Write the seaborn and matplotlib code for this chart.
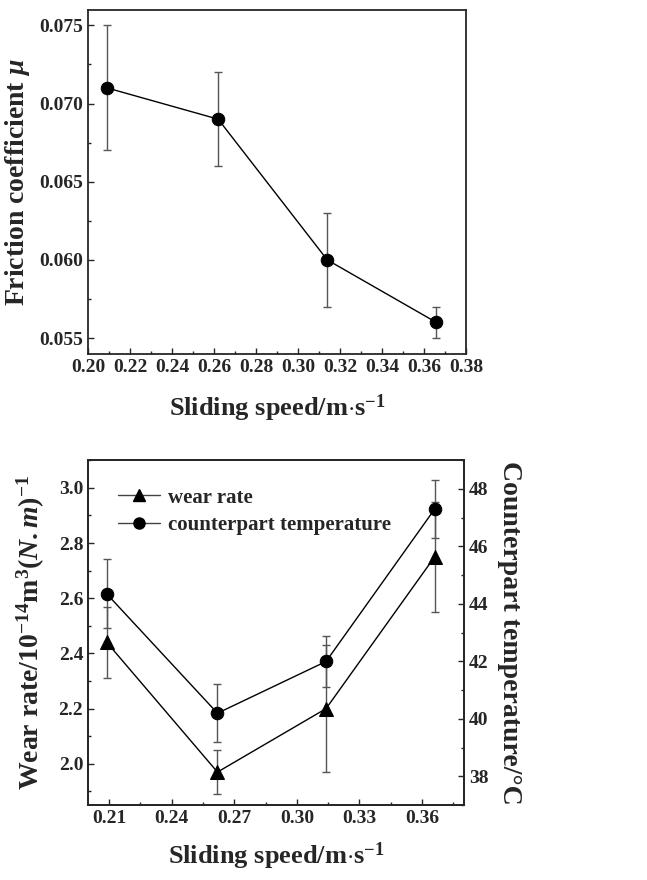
import matplotlib
matplotlib.use("Agg")
import matplotlib.pyplot as plt
import seaborn as sns
import pandas as pd
from matplotlib.lines import Line2D
from matplotlib.ticker import MultipleLocator

# data
speed = [0.209, 0.262, 0.314, 0.366]
friction = [0.071, 0.069, 0.060, 0.056]
friction_err = [0.004, 0.003, 0.003, 0.001]
wear_rate = [2.44, 1.97, 2.20, 2.75]
wear_err = [0.13, 0.08, 0.23, 0.20]
temperature = [44.35, 40.2, 42.0, 47.3]
temp_err = [1.2, 1.0, 0.9, 1.0]

sns.set_theme(style="ticks")
plt.rcParams['font.family'] = ['Liberation Serif', 'DejaVu Serif']
plt.rcParams['font.weight'] = 'bold'
plt.rcParams['axes.labelweight'] = 'bold'
plt.rcParams['mathtext.fontset'] = 'custom'
plt.rcParams['mathtext.rm'] = 'Liberation Serif:bold'
plt.rcParams['mathtext.bf'] = 'Liberation Serif:bold'
plt.rcParams['mathtext.it'] = 'Liberation Serif:bold:italic'
plt.rcParams['xtick.direction'] = 'in'
plt.rcParams['ytick.direction'] = 'in'
plt.rcParams['axes.linewidth'] = 1.3

df = pd.DataFrame({'speed': speed, 'friction': friction,
                   'wear': wear_rate, 'temp': temperature})

fig = plt.figure(figsize=(6.47, 8.8), dpi=100)
ax1 = fig.add_axes([0.136, 0.598, 0.584, 0.391])
ax2 = fig.add_axes([0.136, 0.085, 0.581, 0.392])

tick_fs = 14
label_fs = 19
err_color = '#555555'


def style_ticks(ax):
    ax.tick_params(which='major', length=4, width=1, labelsize=tick_fs)
    ax.tick_params(which='minor', length=2.5, width=1)
    for lab in ax.get_xticklabels() + ax.get_yticklabels():
        lab.set_fontweight('bold')


# ---- top panel: friction coefficient ----
ax1.errorbar(speed, friction, yerr=friction_err, fmt='none', ecolor=err_color,
             elinewidth=1, capsize=3, capthick=1, zorder=2)
sns.lineplot(data=df, x='speed', y='friction', ax=ax1, color='black', lw=1,
             marker='o', markersize=9, markeredgecolor='black', zorder=3)
ax1.set_xlim(0.20, 0.38)
ax1.set_ylim(0.054, 0.076)
ax1.xaxis.set_major_locator(MultipleLocator(0.02))
ax1.xaxis.set_minor_locator(MultipleLocator(0.01))
ax1.yaxis.set_major_locator(MultipleLocator(0.005))
ax1.yaxis.set_minor_locator(MultipleLocator(0.0025))
ax1.xaxis.set_major_formatter(plt.FormatStrFormatter('%.2f'))
ax1.yaxis.set_major_formatter(plt.FormatStrFormatter('%.3f'))
ax1.set_xlabel(r'Sliding speed/m$\cdot$s$^{-1}$', fontsize=label_fs, labelpad=12)
ax1.set_ylabel(r'Friction coefficient $\mu$', fontsize=label_fs + 1, labelpad=5)
style_ticks(ax1)

# ---- bottom panel: wear rate and counterpart temperature ----
ax3 = ax2.twinx()
ax2.errorbar(speed, wear_rate, yerr=wear_err, fmt='none', ecolor=err_color,
             elinewidth=1, capsize=3, capthick=1, zorder=2)
sns.lineplot(data=df, x='speed', y='wear', ax=ax2, color='black', lw=1,
             marker='^', markersize=10, markeredgecolor='black', zorder=3)
ax3.errorbar(speed, temperature, yerr=temp_err, fmt='none', ecolor=err_color,
             elinewidth=1, capsize=3, capthick=1, zorder=2)
sns.lineplot(data=df, x='speed', y='temp', ax=ax3, color='black', lw=1,
             marker='o', markersize=9, markeredgecolor='black', zorder=3)

ax2.set_xlim(0.20, 0.38)
ax2.set_ylim(1.85, 3.1)
ax3.set_ylim(37, 49)
ax2.xaxis.set_minor_locator(MultipleLocator(0.015))
ax2.set_xticks([0.21, 0.24, 0.27, 0.30, 0.33, 0.36])
ax2.yaxis.set_major_locator(MultipleLocator(0.2))
ax2.yaxis.set_minor_locator(MultipleLocator(0.1))
ax3.yaxis.set_major_locator(MultipleLocator(2))
ax3.yaxis.set_minor_locator(MultipleLocator(1))
ax2.xaxis.set_major_formatter(plt.FormatStrFormatter('%.2f'))
ax2.yaxis.set_major_formatter(plt.FormatStrFormatter('%.1f'))
ax3.yaxis.set_major_formatter(plt.FormatStrFormatter('%d'))
ax2.set_xlabel(r'Sliding speed/m$\cdot$s$^{-1}$', fontsize=label_fs, labelpad=10)
ax2.set_ylabel(r'Wear rate/10$^{-14}$m$^{3}$$(N.m)^{-1}$', fontsize=label_fs + 1,
               labelpad=8)
ax3.set_ylabel('Counterpart temperature/°C', fontsize=label_fs + 1, rotation=270,
               labelpad=24)
style_ticks(ax2)
style_ticks(ax3)

handles = [
    Line2D([], [], color='#444444', lw=1, marker='^', markersize=9,
           markerfacecolor='black', markeredgecolor='black'),
    Line2D([], [], color='#444444', lw=1, marker='o', markersize=8,
           markerfacecolor='black', markeredgecolor='black'),
]
ax2.legend(handles, ['wear rate', 'counterpart temperature'], loc='upper left',
           bbox_to_anchor=(0.03, 0.975), frameon=False, handlelength=2.0,
           handletextpad=0.4, labelspacing=0.35,
           prop={'size': 15, 'weight': 'bold'})

fig.savefig('out.png', dpi=100)
